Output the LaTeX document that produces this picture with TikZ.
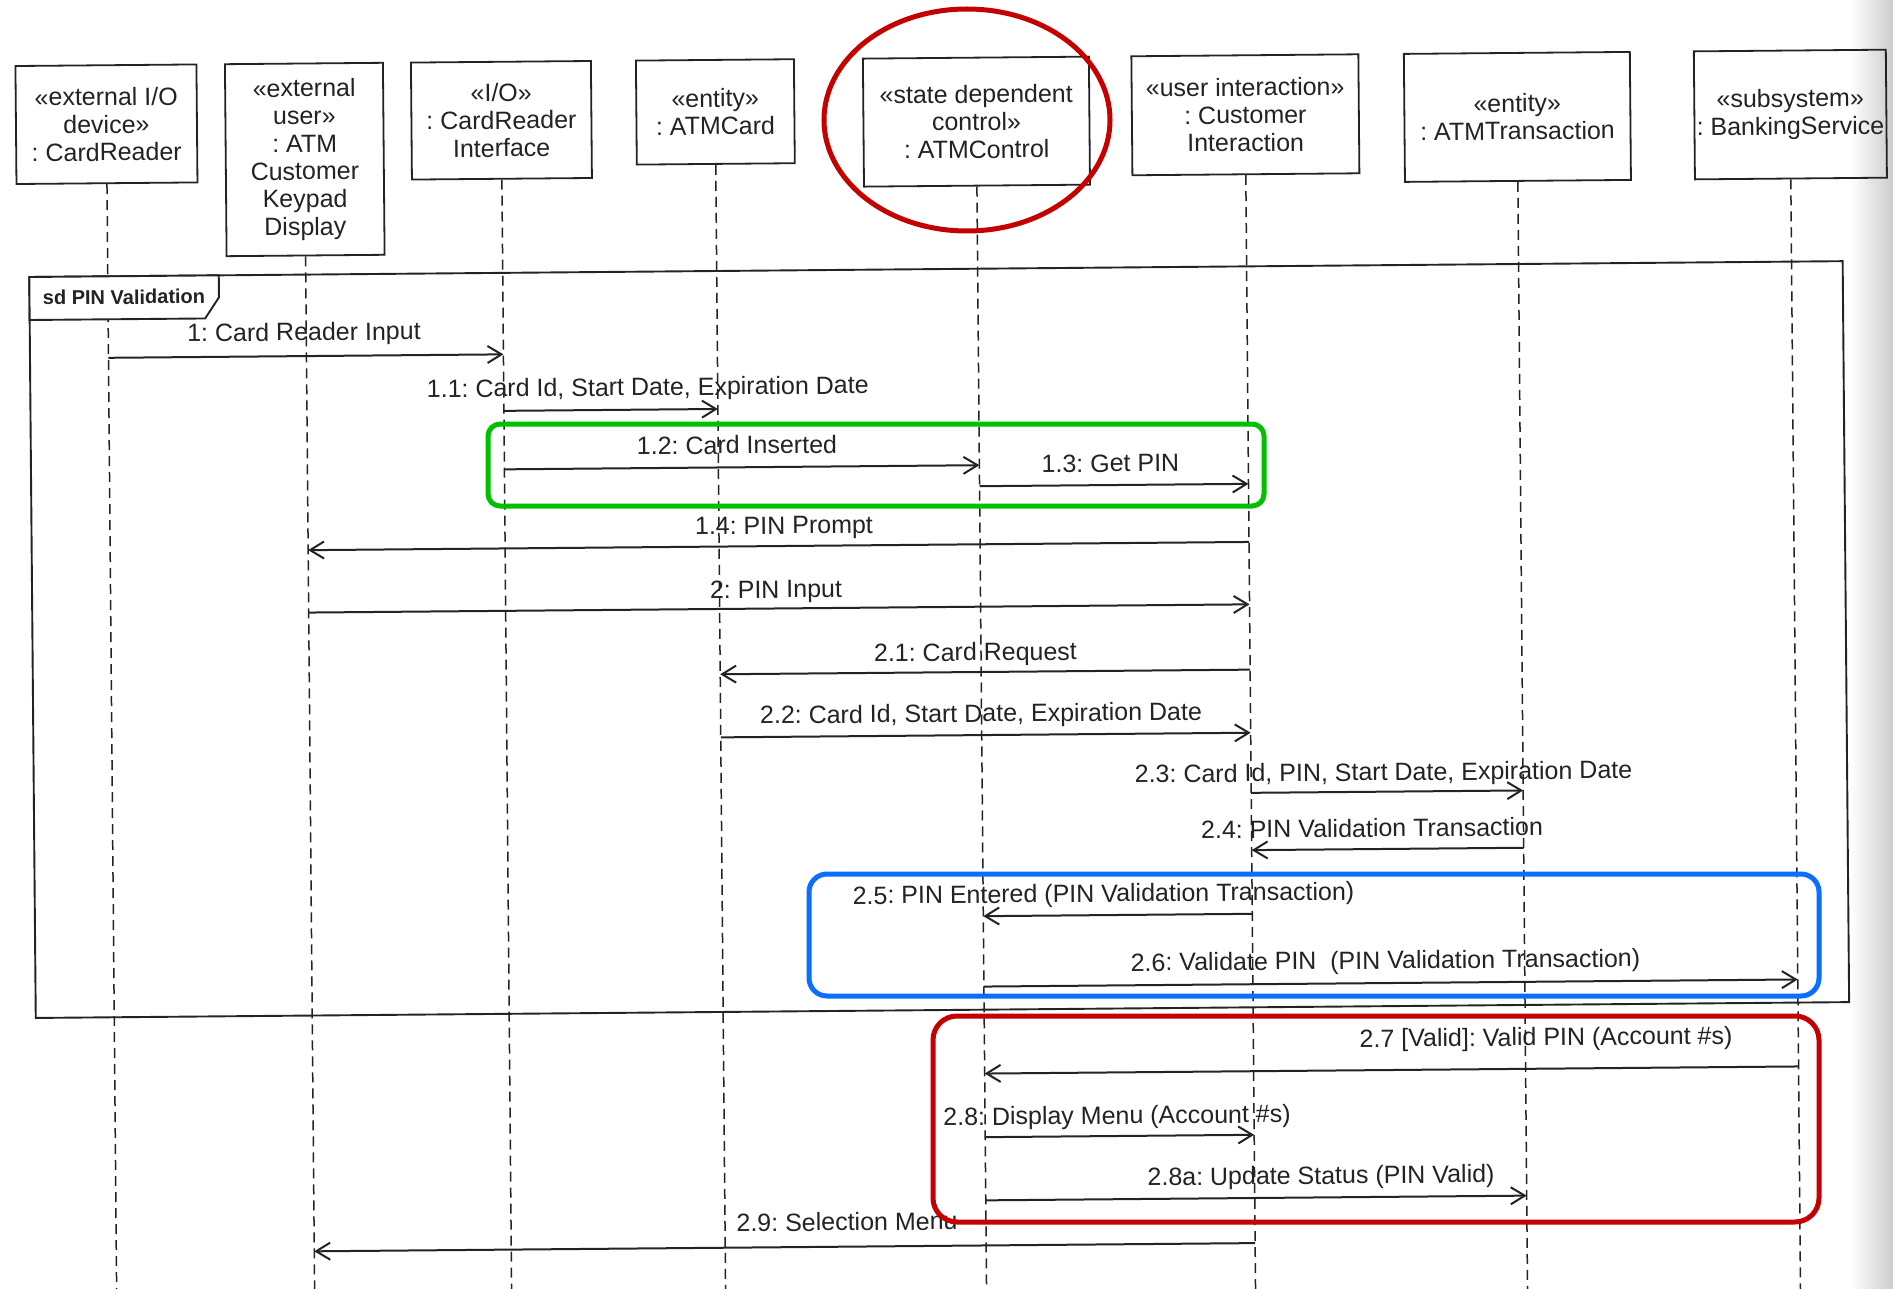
\documentclass[tikz,border=0pt]{standalone}
\usepackage{fontspec}
\setmainfont{Liberation Sans}
\usetikzlibrary{arrows.meta,calc}
\definecolor{ink}{HTML}{232323}
\definecolor{markred}{HTML}{C40000}
\definecolor{markgreen}{HTML}{00C000}
\definecolor{markblue}{HTML}{0A6EFF}
\frenchspacing

\begin{document}
\begin{tikzpicture}[x=1pt,y=-1pt,
  obj/.style={draw=ink,line width=1.8pt,anchor=north,inner sep=0pt,align=center,
    text=ink,font=\fontsize{25}{27.7}\selectfont},
  lifeline/.style={draw=ink,line width=1.5pt,dash pattern=on 10pt off 6pt},
  msg/.style={draw=ink,line width=2pt,
    -{Straight Barb[length=14pt,width=17pt,line width=2pt]}},
  lbl/.style={anchor=base,inner sep=0pt,text=ink,font=\fontsize{25}{30}\selectfont},
  framebox/.style={draw=ink,line width=1.9pt},
  hilite/.style={line width=5pt}]

\useasboundingbox (0,0) rectangle (1893,1289);
\clip (0,0) rectangle (1893,1289);
\fill[white] (0,0) rectangle (1893,1289);
\shade[left color=white,right color=black!20] (1850,0) rectangle (1893,1289);

% ---- the sequence diagram itself ----
\begin{scope}[rotate around={0.5:(946,645)},transform shape]
  % object heads, top aligned
  \node[obj,minimum width=181pt,minimum height=118pt] (h1) at (111,57)
    {«external I/O\\device»\\: CardReader};
  \node[obj,minimum width=158pt,minimum height=192pt] (h2) at (309,57)
    {«external\\user»\\: ATM\\Customer\\Keypad\\Display};
  \node[obj,minimum width=180pt,minimum height=117pt] (h3) at (506,57)
    {«I/O»\\: CardReader\\Interface};
  \node[obj,minimum width=158pt,minimum height=104pt] (h4) at (720,57)
    {«entity»\\: ATMCard};
  \node[obj,minimum width=226pt,minimum height=128pt] (h5) at (981,57)
    {«state dependent\\control»\\: ATMControl};
  \node[obj,minimum width=227pt,minimum height=119pt] (h6) at (1250,57)
    {«user interaction»\\: Customer\\Interaction};
  \node[obj,minimum width=226pt,minimum height=128pt] (h7) at (1522,57)
    {«entity»\\: ATMTransaction};
  \node[obj,minimum width=192pt,minimum height=128pt] (h8) at (1795,57)
    {«subsystem»\\: BankingService};

  % lifeline ends below the page edge
  \coordinate (b1) at (111,1340);
  \coordinate (b2) at (309,1340);
  \coordinate (b3) at (506,1340);
  \coordinate (b4) at (720,1340);
  \coordinate (b5) at (981,1340);
  \coordinate (b6) at (1250,1340);
  \coordinate (b7) at (1522,1340);
  \coordinate (b8) at (1795,1340);
  \foreach \i in {1,...,8} {\draw[lifeline] (h\i.south) -- (b\i);}

  % interaction frame with its name tab (the tab covers the lifeline)
  \draw[framebox] (32.5,269) -- (1846,269) -- (1846,1010) -- (32.5,1010) -- cycle;
  \filldraw[framebox,fill=white] (32.5,269) -- (32.5,312) -- (208,312) -- (222,291) -- (222,269) -- cycle;
  \node[anchor=base,inner sep=0pt,text=ink,font=\fontsize{20}{24}\selectfont\bfseries]
    (sd) at (127,297) {sd PIN Validation};

  % messages: points on the lifelines, measured from the top of each head
  \draw[msg] ($(h1.north)!293.5pt!(b1)$) -- ($(h3.north)!293.5pt!(b3)$);
  \draw[msg] ($(h3.north)!350pt!(b3)$) -- ($(h4.north)!350pt!(b4)$);
  \draw[msg] ($(h3.north)!408.5pt!(b3)$) -- ($(h5.north)!408.5pt!(b5)$);
  \draw[msg] ($(h5.north)!429.5pt!(b5)$) -- ($(h6.north)!429.5pt!(b6)$);
  \draw[msg] ($(h6.north)!487.6pt!(b6)$) -- ($(h2.north)!487.6pt!(b2)$);
  \draw[msg] ($(h2.north)!550pt!(b2)$) -- ($(h6.north)!550pt!(b6)$);
  \draw[msg] ($(h6.north)!615.3pt!(b6)$) -- ($(h4.north)!615.3pt!(b4)$);
  \draw[msg] ($(h4.north)!678.4pt!(b4)$) -- ($(h6.north)!678.4pt!(b6)$);
  \draw[msg] ($(h6.north)!738.5pt!(b6)$) -- ($(h7.north)!738.5pt!(b7)$);
  \draw[msg] ($(h7.north)!795.8pt!(b7)$) -- ($(h6.north)!795.8pt!(b6)$);
  \draw[msg] ($(h6.north)!859.5pt!(b6)$) -- ($(h5.north)!859.5pt!(b5)$);
  \draw[msg] ($(h5.north)!929.9pt!(b5)$) -- ($(h8.north)!929.9pt!(b8)$);
  \draw[msg] ($(h8.north)!1016.9pt!(b8)$) -- ($(h5.north)!1016.9pt!(b5)$);
  \draw[msg] ($(h5.north)!1080.5pt!(b5)$) -- ($(h6.north)!1080.5pt!(b6)$);
  \draw[msg] ($(h5.north)!1143.7pt!(b5)$) -- ($(h7.north)!1143.7pt!(b7)$);
  \draw[msg] ($(h6.north)!1188.8pt!(b6)$) -- ($(h2.north)!1188.8pt!(b2)$);

  % message labels
  \node[lbl] (t1)   at (306.7,335)   {1: Card Reader Input};
  \node[lbl] (t11)  at (650,393)     {1.1: Card Id, Start Date, Expiration Date};
  \node[lbl] (t12)  at (738.7,452)   {1.2: Card Inserted};
  \node[lbl] (t13)  at (1112,473.4)  {1.3: Get PIN};
  \node[lbl] (t14)  at (785,532.6)   {1.4: PIN Prompt};
  \node[lbl] (t2)   at (776.5,596.5) {2: PIN Input};
  \node[lbl] (t21)  at (975.4,661)   {2.1: Card Request};
  \node[lbl] (t22)  at (980.4,722.3) {2.2: Card Id, Start Date, Expiration Date};
  \node[lbl] (t23)  at (1382.4,784.5) {2.3: Card Id, PIN, Start Date, Expiration Date};
  \node[lbl] (t24)  at (1370.4,840.7) {2.4: PIN Validation Transaction};
  \node[lbl] (t25)  at (1101.3,903.4) {2.5: PIN Entered (PIN Validation Transaction)};
  \node[lbl] (t26)  at (1382.7,972.8) {2.6: Validate PIN\ \ (PIN Validation Transaction)};
  \node[lbl] (t27)  at (1542.6,1050.9) {2.7 [Valid]: Valid PIN (Account \#s)};
  \node[lbl] (t28)  at (1112.9,1125.5) {2.8: Display Menu (Account \#s)};
  \node[lbl] (t28a) at (1316.4,1187.3) {2.8a: Update Status (PIN Valid)};
  \node[lbl] (t29)  at (842,1229.8)  {2.9: Selection Menu};
\end{scope}

% ---- highlight marks ----
\draw[hilite,markred] (967,120) ellipse [x radius=143pt,y radius=111pt];
\draw[hilite,markgreen,rounded corners=12pt] (488,424) rectangle (1264,506);
\draw[hilite,markblue,rounded corners=18pt] (809,874) rectangle (1819,996);
\draw[hilite,markred,rounded corners=24pt] (933,1016) rectangle (1819,1222);
\end{tikzpicture}
\end{document}
